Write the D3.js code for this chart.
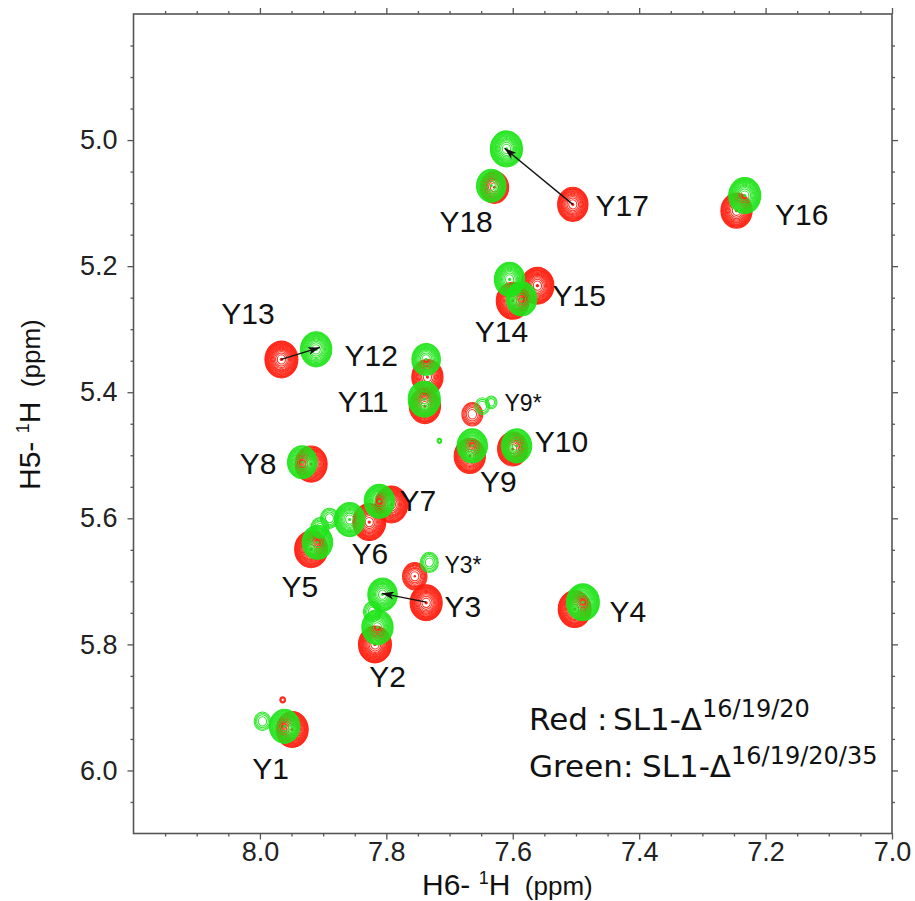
<!DOCTYPE html>
<html>
<head>
<meta charset="utf-8">
<script src="https://cdn.jsdelivr.net/npm/d3@7"></script>
<style>
  body { margin: 0; background: #fff; }
  svg { display: block; }
</style>
</head>
<body>
<div id="canvas"></div>
<script>
"use strict"

/* Peak lists: H6 / H5 shift in ppm, relative intensity */
let redPeaks = [
    { id: "Y1", h6: 7.949, h5: 5.935, i: 0.95 },
    { id: "Y1b", h6: 7.964, h5: 5.888, i: 0.03 },
    { id: "Y2", h6: 7.818, h5: 5.800, i: 1.0 },
    { id: "Y3", h6: 7.737, h5: 5.734, i: 0.95 },
    { id: "Y3b", h6: 7.755, h5: 5.692, i: 0.55 },
    { id: "Y4", h6: 7.502, h5: 5.744, i: 1.0 },
    { id: "Y5", h6: 7.919, h5: 5.649, i: 1.0 },
    { id: "Y6", h6: 7.827, h5: 5.606, i: 1.0 },
    { id: "Y7", h6: 7.792, h5: 5.578, i: 1.0 },
    { id: "Y8", h6: 7.919, h5: 5.514, i: 0.95 },
    { id: "Y9", h6: 7.668, h5: 5.501, i: 0.9 },
    { id: "Y9*", h6: 7.664, h5: 5.435, i: 0.4 },
    { id: "Y10", h6: 7.600, h5: 5.490, i: 0.85 },
    { id: "Y11a", h6: 7.735, h5: 5.376, i: 0.9 },
    { id: "Y11b", h6: 7.739, h5: 5.422, i: 0.9 },
    { id: "Y13", h6: 7.966, h5: 5.348, i: 1.0 },
    { id: "Y14", h6: 7.600, h5: 5.255, i: 1.0 },
    { id: "Y15", h6: 7.561, h5: 5.231, i: 1.0 },
    { id: "Y16", h6: 7.246, h5: 5.112, i: 0.9 },
    { id: "Y17", h6: 7.505, h5: 5.102, i: 0.85 },
    { id: "Y18", h6: 7.629, h5: 5.075, i: 0.75 }
];

let greenPeaks = [
    { id: "Y1", h6: 7.961, h5: 5.930, i: 0.85 },
    { id: "Y1t", h6: 7.996, h5: 5.922, i: 0.25 },
    { id: "Y2", h6: 7.814, h5: 5.773, i: 0.9 },
    { id: "Y2t", h6: 7.822, h5: 5.748, i: 0.3 },
    { id: "Y3", h6: 7.806, h5: 5.721, i: 0.8 },
    { id: "Y3*", h6: 7.732, h5: 5.670, i: 0.3 },
    { id: "Y4", h6: 7.489, h5: 5.733, i: 1.0 },
    { id: "Y5", h6: 7.909, h5: 5.638, i: 0.85 },
    { id: "Y5t", h6: 7.905, h5: 5.615, i: 0.3 },
    { id: "Y5u", h6: 7.890, h5: 5.600, i: 0.3 },
    { id: "Y6", h6: 7.858, h5: 5.602, i: 0.85 },
    { id: "Y7", h6: 7.811, h5: 5.573, i: 0.85 },
    { id: "Y8", h6: 7.933, h5: 5.511, i: 0.8 },
    { id: "Y9", h6: 7.664, h5: 5.485, i: 0.85 },
    { id: "Y9*", h6: 7.648, h5: 5.422, i: 0.2 },
    { id: "Y9*t", h6: 7.634, h5: 5.416, i: 0.12 },
    { id: "Y10", h6: 7.594, h5: 5.485, i: 0.85 },
    { id: "Y11a", h6: 7.737, h5: 5.348, i: 0.75 },
    { id: "Y11b", h6: 7.740, h5: 5.411, i: 0.95 },
    { id: "Y12", h6: 7.911, h5: 5.332, i: 0.9 },
    { id: "Y14a", h6: 7.605, h5: 5.221, i: 0.85 },
    { id: "Y14b", h6: 7.586, h5: 5.252, i: 0.85 },
    { id: "Y16", h6: 7.233, h5: 5.088, i: 0.95 },
    { id: "Y17", h6: 7.610, h5: 5.014, i: 0.95 },
    { id: "Y18", h6: 7.634, h5: 5.0725, i: 0.8 },
    { id: "dot", h6: 7.716, h5: 5.477, i: 0.02 }
];

/* Assignment labels: text and anchor (start of text, baseline) in ppm */
let peakLabels = [
    { text: "Y1", h6: 8.012, h5: 6.013 },
    { text: "Y2", h6: 7.827, h5: 5.867 },
    { text: "Y3", h6: 7.708, h5: 5.756 },
    { text: "Y3*", h6: 7.708, h5: 5.686, small: true },
    { text: "Y4", h6: 7.447, h5: 5.764 },
    { text: "Y5", h6: 7.966, h5: 5.725 },
    { text: "Y6", h6: 7.855, h5: 5.673 },
    { text: "Y7", h6: 7.779, h5: 5.589 },
    { text: "Y8", h6: 8.032, h5: 5.530 },
    { text: "Y9", h6: 7.652, h5: 5.559 },
    { text: "Y9*", h6: 7.613, h5: 5.430, small: true },
    { text: "Y10", h6: 7.565, h5: 5.495 },
    { text: "Y11", h6: 7.877, h5: 5.432 },
    { text: "Y12", h6: 7.866, h5: 5.359 },
    { text: "Y13", h6: 8.061, h5: 5.292 },
    { text: "Y14", h6: 7.660, h5: 5.321 },
    { text: "Y15", h6: 7.537, h5: 5.264 },
    { text: "Y16", h6: 7.185, h5: 5.135 },
    { text: "Y17", h6: 7.469, h5: 5.121 },
    { text: "Y18", h6: 7.716, h5: 5.146 }
];

/* Shift arrows, red position -> green position */
let shiftArrows = [
    { from: [7.505, 5.102], to: [7.613, 5.013] },
    { from: [7.966, 5.348], to: [7.905, 5.329] },
    { from: [7.737, 5.733], to: [7.807, 5.719] }
];

let xTicks = [8.0, 7.8, 7.6, 7.4, 7.2, 7.0];
let yTicks = [5.0, 5.2, 5.4, 5.6, 5.8, 6.0];

/* Drawing configuration */
let svgWidth = 915;
let svgHeight = 901;
let plotLeft = 133.5, plotRight = 892, plotTop = 14, plotBottom = 833.5;
let redColor = "#ff1c0c";
let greenColor = "#1ee418";
let axisColor = "#555";

let svg = d3.select("#canvas")
    .append("svg")
    .attr("width", svgWidth)
    .attr("height", svgHeight);

let x = d3.scaleLinear().domain([8.2, 7.0]).range([plotLeft, plotRight]);
let y = d3.scaleLinear().domain([4.8, 6.1]).range([plotTop, plotBottom]);
let rScale = d3.scaleSqrt().domain([0, 1]).range([0, 16.5]);

let xMinor = d3.range(8.15, 7.0, -0.05).filter(v => !xTicks.some(t => Math.abs(t - v) < 1e-6));
let yMinor = d3.range(4.85, 6.1, 0.05).filter(v => !yTicks.some(t => Math.abs(t - v) < 1e-6));

/* Contour peaks: concentric rings, dense at the rim like geometric contour levels.
   Weak peaks get fewer rings, so they look fainter. */
let maxLevels = 16;

function ringRadii(d) {
    let n = Math.max(3, Math.round(maxLevels * d.i));
    return d3.range(n).map(k => rScale(d.i) * Math.sqrt(1 - k / n));
}

function drawPeaks(peaks, color) {
    let g = svg.append("g");
    let peak = g.selectAll("g")
        .data(peaks)
        .join("g")
        .attr("transform", d => "translate(" + x(d.h6) + "," + y(d.h5) + ")");

    peak.selectAll("ellipse")
        .data(ringRadii)
        .join("ellipse")
        .attr("rx", r => r)
        .attr("ry", r => r * 1.12)
        .attr("fill", "none")
        .attr("stroke", color)
        .attr("stroke-width", d => 1.05)
        .attr("stroke-opacity", 0.9);

    peak.filter(d => d.i > 0.5)
        .append("circle")
        .attr("r", d => rScale(d.i) * 0.1)
        .attr("fill", color);
}

drawPeaks(redPeaks, redColor);
drawPeaks(greenPeaks, greenColor);

/* Arrows */
svg.append("defs").append("marker")
    .attr("id", "head")
    .attr("viewBox", "0 0 12 8")
    .attr("refX", 12)
    .attr("refY", 4)
    .attr("markerWidth", 12)
    .attr("markerHeight", 8)
    .attr("markerUnits", "userSpaceOnUse")
    .attr("orient", "auto")
    .append("path")
    .attr("d", "M0,0 L12,4 L0,8 L3,4 Z")
    .attr("fill", "#111");

svg.append("g")
    .selectAll("line")
    .data(shiftArrows)
    .join("line")
    .attr("x1", d => x(d.from[0]))
    .attr("y1", d => y(d.from[1]))
    .attr("x2", d => x(d.to[0]))
    .attr("y2", d => y(d.to[1]))
    .attr("stroke", "#111")
    .attr("stroke-width", 1.3)
    .attr("marker-end", "url(#head)");

/* Peak labels */
svg.append("g")
    .selectAll("text")
    .data(peakLabels)
    .join("text")
    .attr("x", d => x(d.h6))
    .attr("y", d => y(d.h5))
    .attr("font-family", "Liberation Sans, Arial, sans-serif")
    .attr("font-size", d => d.small ? 23 : 30)
    .attr("fill", "#111")
    .text(d => d.text);

/* Frame and axes */
svg.append("rect")
    .attr("x", plotLeft)
    .attr("y", plotTop)
    .attr("width", plotRight - plotLeft)
    .attr("height", plotBottom - plotTop)
    .attr("fill", "none")
    .attr("stroke", axisColor)
    .attr("stroke-width", 1.6);

function styleAxis(g) {
    g.select(".domain").remove();
    g.selectAll("line").attr("stroke", axisColor).attr("stroke-width", 1.3);
    g.selectAll("text")
        .attr("font-family", "Liberation Sans, Arial, sans-serif")
        .attr("font-size", 27)
        .attr("fill", "#222");
}

let fmt = d3.format(".1f");

svg.append("g")
    .attr("transform", "translate(0," + plotBottom + ")")
    .call(d3.axisBottom(x).tickValues(xTicks).tickFormat(fmt).tickSize(6).tickPadding(2))
    .call(styleAxis);
svg.append("g")
    .attr("transform", "translate(0," + plotBottom + ")")
    .call(d3.axisBottom(x).tickValues(xMinor).tickFormat("").tickSize(3))
    .call(styleAxis);
svg.append("g")
    .attr("transform", "translate(0," + plotTop + ")")
    .call(d3.axisTop(x).tickValues(xTicks).tickFormat("").tickSize(6))
    .call(styleAxis);
svg.append("g")
    .attr("transform", "translate(0," + plotTop + ")")
    .call(d3.axisTop(x).tickValues(xMinor).tickFormat("").tickSize(3))
    .call(styleAxis);

svg.append("g")
    .attr("transform", "translate(" + plotLeft + ",0)")
    .call(d3.axisLeft(y).tickValues(yTicks).tickFormat(fmt).tickSize(6).tickPadding(10))
    .call(styleAxis);
svg.append("g")
    .attr("transform", "translate(" + plotLeft + ",0)")
    .call(d3.axisLeft(y).tickValues(yMinor).tickFormat("").tickSize(3))
    .call(styleAxis);
svg.append("g")
    .attr("transform", "translate(" + plotRight + ",0)")
    .call(d3.axisRight(y).tickValues(yTicks).tickFormat("").tickSize(6))
    .call(styleAxis);
svg.append("g")
    .attr("transform", "translate(" + plotRight + ",0)")
    .call(d3.axisRight(y).tickValues(yMinor).tickFormat("").tickSize(3))
    .call(styleAxis);

/* Axis titles */
function axisTitle(sel, nucleusLabel) {
    sel.attr("font-family", "Liberation Sans, Arial, sans-serif")
        .attr("fill", "#111");
    sel.append("tspan").attr("font-size", 30).text(nucleusLabel + "- ");
    sel.append("tspan").attr("font-size", 18).attr("dy", -11).text("1");
    sel.append("tspan").attr("font-size", 30).attr("dy", 11).text("H");
    sel.append("tspan").attr("font-size", 26).text("\u00a0 (ppm)");
}

svg.append("text")
    .attr("x", 422)
    .attr("y", 895)
    .call(axisTitle, "H6");

svg.append("text")
    .attr("transform", "translate(40,490) rotate(-90)")
    .call(axisTitle, "H5");

/* Legend */
let legend = svg.append("g")
    .attr("font-family", "DejaVu Sans, Verdana, sans-serif")
    .attr("fill", "#111");

let redLine = legend.append("text").attr("y", 730);
redLine.append("tspan").attr("x", 529).attr("font-size", 31).text("Red");
redLine.append("tspan").attr("x", 597).attr("font-size", 31).text(":");
redLine.append("tspan").attr("x", 613).attr("font-size", 31).text("SL1-\u0394");
redLine.append("tspan").attr("dy", -13).attr("font-size", 24).text("16/19/20");

let greenLine = legend.append("text").attr("y", 777);
greenLine.append("tspan").attr("x", 529).attr("font-size", 31).text("Green:");
greenLine.append("tspan").attr("x", 642).attr("font-size", 31).text("SL1-\u0394");
greenLine.append("tspan").attr("dy", -13).attr("font-size", 24).text("16/19/20/35");
</script>
</body>
</html>
